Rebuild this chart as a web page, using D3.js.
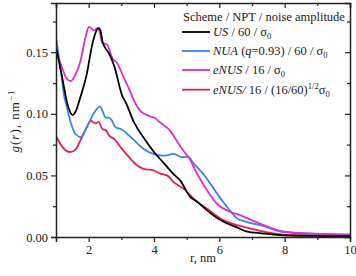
<!DOCTYPE html>
<html><head><meta charset="utf-8">
<script src="https://cdn.jsdelivr.net/npm/d3@7"></script>
<style>body{margin:0;background:#fff}svg{display:block}svg text{font-family:'Liberation Serif','Times New Roman',serif;fill:#222}</style>
</head><body><svg id="c" width="356" height="276"></svg>
<script>
// Data (r in nm, g(r) in nm^-1)
const usR  = [1.0,1.2,1.35,1.51,1.62,1.74,1.94,2.1,2.2,2.3,2.36,2.42,2.52,2.6,2.78,3.03,3.14,3.39,3.7,4.0,4.3,4.6,4.8,5.11,5.3,5.62,5.9,6.13,6.54,6.85,7.3,7.87,8.5,9.2,10];
const usG  = [0.155,0.128,0.108,0.099,0.103,0.113,0.132,0.155,0.165,0.1696,0.168,0.159,0.153,0.150,0.139,0.1145,0.109,0.093,0.080,0.069,0.060,0.051,0.046,0.0325,0.029,0.0218,0.016,0.0124,0.0078,0.0043,0.003,0.0016,0.001,0.0008,0.0006];
const nuaR = [1.0,1.15,1.25,1.33,1.45,1.6,1.76,1.86,1.96,2.17,2.35,2.43,2.52,2.6,2.68,2.83,2.98,3.24,3.45,3.68,3.98,4.29,4.6,4.85,5.06,5.2,5.37,5.62,5.93,6.24,6.54,6.8,7.36,7.87,8.5,9.2,10];
const nuaG = [0.162,0.135,0.1145,0.106,0.093,0.0836,0.081,0.085,0.090,0.101,0.106,0.102,0.097,0.097,0.0957,0.089,0.0877,0.0823,0.077,0.0715,0.0675,0.066,0.0675,0.0648,0.0648,0.060,0.0554,0.0473,0.0352,0.0244,0.0151,0.0125,0.0089,0.0043,0.003,0.0025,0.002];
const enusR = [1.0,1.15,1.3,1.45,1.6,1.76,1.91,2.01,2.1,2.17,2.27,2.35,2.42,2.5,2.57,2.73,2.88,3.03,3.24,3.44,3.58,3.88,4.0,4.19,4.5,4.7,4.9,5.06,5.32,5.62,5.93,6.34,6.64,7.0,7.36,7.87,8.3,8.79,9.4,10];
const enusG = [0.149,0.140,0.130,0.1266,0.132,0.144,0.163,0.1705,0.169,0.1677,0.1696,0.165,0.1575,0.157,0.156,0.145,0.141,0.132,0.120,0.108,0.1024,0.098,0.097,0.093,0.086,0.078,0.070,0.0648,0.0514,0.038,0.027,0.0204,0.0177,0.0135,0.0097,0.005,0.0035,0.003,0.002,0.0016];
const enus2R = [1.0,1.2,1.43,1.6,1.74,1.85,1.96,2.06,2.15,2.22,2.3,2.42,2.52,2.63,2.78,2.98,3.24,3.49,3.68,4.0,4.19,4.4,4.6,4.9,5.32,5.62,6.03,6.54,6.64,7.36,7.87,8.5,9.2,10];
const enus2G = [0.082,0.073,0.069,0.071,0.078,0.084,0.090,0.0944,0.093,0.0922,0.0935,0.0877,0.0868,0.0823,0.0796,0.0728,0.0648,0.058,0.0554,0.054,0.0514,0.050,0.0446,0.0393,0.0285,0.0231,0.0151,0.0097,0.009,0.0043,0.0022,0.0015,0.0012,0.001];
const xTicks = [2,4,6,8,10];
const yTicks = [0.00,0.05,0.10,0.15];
const seriesColors = ["#000000","#3a84e6","#e22ccc","#e8204a"];

const svg = d3.select("#c");
const L=56,R=350,T=3,B=237;
const x = d3.scaleLinear().domain([1,10]).range([L,R]);
const y = d3.scaleLinear().domain([0,0.19]).range([B,T]);

const series = [[usR,usG],[nuaR,nuaG],[enusR,enusG],[enus2R,enus2G]];
const line = d3.line().x(d=>x(d[0])).y(d=>y(d[1])).curve(d3.curveMonotoneX);
svg.append("clipPath").attr("id","cp").append("rect").attr("x",L).attr("y",T).attr("width",R-L).attr("height",B-T);
[3,1,2,0].forEach(i=>{
  const [rs,gs]=series[i];
  svg.append("path").attr("clip-path","url(#cp)").datum(rs.map((r,k)=>[r,gs[k]]))
    .attr("d",line).attr("fill","none").attr("stroke",seriesColors[i]).attr("stroke-width",1.8).attr("stroke-linejoin","round");
});

const SERIF="Liberation Serif, Times New Roman, serif";
const minorXv=[1,3,5,7,9], minorYv=[0.025,0.075,0.125,0.175];
svg.append("g").attr("transform",`translate(0,${B})`).call(d3.axisBottom(x).tickValues(xTicks).tickSize(5).tickPadding(3).tickFormat(d3.format("d")));
svg.append("g").attr("transform",`translate(${L},0)`).call(d3.axisLeft(y).tickValues(yTicks).tickSize(5).tickPadding(3).tickFormat(d3.format(".2f")));
svg.append("g").attr("transform",`translate(0,${T})`).call(d3.axisBottom(x).tickValues(xTicks).tickSize(5).tickFormat(""));
svg.append("g").attr("transform",`translate(${R},0)`).call(d3.axisLeft(y).tickValues(yTicks).tickSize(5).tickFormat(""));
svg.append("g").attr("transform",`translate(0,${B})`).call(d3.axisBottom(x).tickValues(minorXv).tickSize(3).tickFormat("")).select(".domain").remove();
svg.append("g").attr("transform",`translate(0,${T})`).call(d3.axisBottom(x).tickValues(minorXv).tickSize(3).tickFormat("")).select(".domain").remove();
svg.append("g").attr("transform",`translate(${L},0)`).call(d3.axisLeft(y).tickValues(minorYv).tickSize(3).tickFormat("")).select(".domain").remove();
svg.append("g").attr("transform",`translate(${R},0)`).call(d3.axisLeft(y).tickValues(minorYv).tickSize(3).tickFormat("")).select(".domain").remove();
svg.selectAll("g").attr("font-family",SERIF);
svg.selectAll(".domain").attr("stroke","#222").attr("stroke-width",1.5);
svg.selectAll(".tick line").attr("stroke","#222").attr("stroke-width",1.2);
svg.selectAll(".tick text").attr("font-size",12.5).attr("fill","#222");

svg.append("text").attr("x",(L+R)/2).attr("y",262).attr("text-anchor","middle").attr("font-size",12.5).text("r, nm");
const yl = svg.append("text").attr("transform","translate(19,121) rotate(-90)").attr("text-anchor","middle").attr("font-size",13).attr("letter-spacing",1);
yl.append("tspan").attr("font-style","italic").text("g");
yl.append("tspan").text("(");
yl.append("tspan").attr("font-style","italic").text("r");
yl.append("tspan").text("), nm");
yl.append("tspan").attr("font-size",9).attr("dy",-5).text("−1");

const lg = svg.append("g");
lg.append("text").attr("x",183).attr("y",20.5).attr("font-size",12.5).text("Scheme / NPT / noise amplitude");
const ly=[32,51,70,89.7];
const parts = [
  [["US","i"],[" / 60 / σ",""],["0","s"]],
  [["NUA","i"],[" (",""],["q","i"],["=0.93) / 60 / σ",""],["0","s"]],
  [["eNUS","i"],[" / 16 / σ",""],["0","s"]],
  [["eNUS/","i"],[" 16 / (16/60)",""],["1/2","p"],["σ",""],["0","s"]]
];
ly.forEach((yy,i)=>{
  lg.append("line").attr("x1",182).attr("x2",210).attr("y1",yy).attr("y2",yy).attr("stroke",seriesColors[i]).attr("stroke-width",1.8);
  const t = lg.append("text").attr("x",213).attr("y",yy+4).attr("font-size",12.5);
  let shift=0;
  parts[i].forEach(([s,k])=>{
    const ts=t.append("tspan").text(s);
    if(k=="i") ts.attr("font-style","italic");
    let dy=0;
    if(k=="s"){ts.attr("font-size",8.5); dy=3;}
    if(k=="p"){ts.attr("font-size",8.5); dy=-5;}
    ts.attr("dy",dy-shift); shift=dy;
  });
});
</script></body></html>
